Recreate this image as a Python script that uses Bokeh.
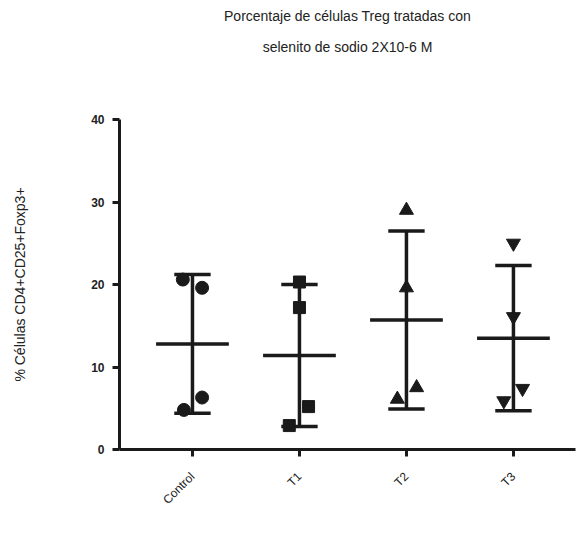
import numpy as np
from bokeh.plotting import figure
from bokeh.models import FixedTicker, ColumnDataSource, LinearAxis
from bokeh.embed import file_html
from bokeh.resources import INLINE

# ---- data ----
categories = ["Control", "T1", "T2", "T3"]
control = [20.6, 19.6, 6.3, 4.8]
t1 = [20.3, 17.2, 5.2, 2.9]
t2 = [29.0, 19.6, 6.1, 7.5]
t3 = [25.0, 16.1, 7.4, 5.9]
means = [12.8, 11.4, 15.7, 13.5]
sds = [8.4, 8.6, 10.8, 8.8]
y_ticks = [0, 10, 20, 30, 40]

title_line1 = "Porcentaje de células Treg tratadas con"
title_line2 = "selenito de sodio 2X10-6 M"
y_label = "% Células CD4+CD25+Foxp3+"

# ---- layout / style ----
jitter = [
    [-0.09, 0.09, 0.09, -0.08],
    [0.0, 0.0, 0.085, -0.095],
    [0.0, 0.0, -0.085, 0.095],
    [0.0, 0.0, 0.085, -0.09],
]
markers = ["circle", "square", "triangle", "inverted_triangle"]
msizes = [13, 12, 14, 14]
INK = "#1a1a1a"
TXT = "#222222"
FONT = "Liberation Sans"

p = figure(width=578, height=530, x_range=(0.318, 4.58), y_range=(0, 40),
           output_backend="svg", toolbar_location=None,
           min_border_left=119, min_border_top=119, min_border_right=3,
           min_border_bottom=81)
p.outline_line_color = None
p.grid.visible = False
p.background_fill_color = "white"

groups = [control, t1, t2, t3]
xs = np.arange(1, len(categories) + 1, dtype=float)

# error bars and means
m = np.array(means)
s = np.array(sds)
p.segment(x0=xs, y0=m - s, x1=xs, y1=m + s, line_width=3.5, line_color=INK)
p.segment(x0=xs - 0.17, y0=m + s, x1=xs + 0.17, y1=m + s, line_width=3.5, line_color=INK)
p.segment(x0=xs - 0.17, y0=m - s, x1=xs + 0.17, y1=m - s, line_width=3.5, line_color=INK)
p.segment(x0=xs - 0.34, y0=m, x1=xs + 0.34, y1=m, line_width=3.5, line_color=INK)

for i, vals in enumerate(groups):
    src = ColumnDataSource(dict(x=[xs[i] + j for j in jitter[i]], y=vals))
    p.scatter("x", "y", source=src, marker=markers[i], size=msizes[i],
              fill_color=INK, line_color=INK)

# axes
for ax in (p.xaxis[0], p.yaxis[0]):
    ax.axis_line_width = 3
    ax.axis_line_color = INK
    ax.major_tick_line_width = 3
    ax.major_tick_line_color = INK
    ax.major_tick_in = 0
    ax.major_tick_out = 7
    ax.minor_tick_line_color = None
    ax.major_label_text_font = FONT
    ax.major_label_text_color = TXT

p.yaxis.ticker = FixedTicker(ticks=y_ticks)
p.yaxis.major_label_text_font_style = "bold"
p.yaxis.major_label_text_font_size = "12px"
p.yaxis.major_label_standoff = 8
p.yaxis.axis_label = y_label
p.yaxis.axis_label_text_font = FONT
p.yaxis.axis_label_text_font_size = "14px"
p.yaxis.axis_label_text_font_style = "normal"
p.yaxis.axis_label_text_color = TXT
p.yaxis.axis_label_standoff = 60

p.xaxis.ticker = FixedTicker(ticks=list(xs))
p.xaxis.major_label_overrides = {float(x): c for x, c in zip(xs, categories)}
p.xaxis.major_label_orientation = np.pi / 4
p.xaxis.major_label_text_font_size = "12px"
p.xaxis.major_label_standoff = 18

# two-line title, drawn as labels of blank axes above the frame
for txt, standoff in [(title_line2, 65), (title_line1, 12)]:
    tax = LinearAxis(axis_label=txt, ticker=FixedTicker(ticks=[]),
                     axis_line_color=None, major_tick_line_color=None,
                     minor_tick_line_color=None, major_tick_in=0, major_tick_out=0,
                     minor_tick_in=0, minor_tick_out=0, major_label_standoff=0,
                     major_label_text_font_size="0px",
                     axis_label_standoff=standoff, axis_label_text_font=FONT,
                     axis_label_text_font_size="14px",
                     axis_label_text_font_style="normal",
                     axis_label_text_color=TXT)
    p.add_layout(tax, "above")

open("out.html", "w").write(file_html(p, INLINE))
